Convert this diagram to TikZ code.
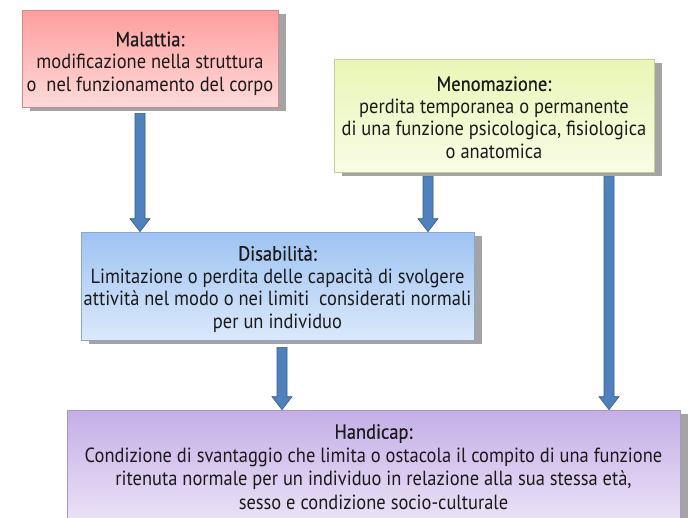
\documentclass[tikz,border=0pt]{standalone}
\usepackage{fontspec}
\setmainfont[FakeStretch=0.9]{PT Sans}
\usetikzlibrary{calc,shadows}
\definecolor{malTop}{HTML}{FF9E9E}
\definecolor{malBot}{HTML}{FFDADA}
\definecolor{malEdge}{HTML}{D08A8A}
\definecolor{menTop}{HTML}{E9F6B6}
\definecolor{menBot}{HTML}{F8FCE6}
\definecolor{menEdge}{HTML}{C4CF90}
\definecolor{disTop}{HTML}{9EC3F2}
\definecolor{disBot}{HTML}{DBE9FB}
\definecolor{disEdge}{HTML}{88A6CE}
\definecolor{hanTop}{HTML}{C4AEE6}
\definecolor{hanBot}{HTML}{EFE8F9}
\definecolor{hanEdge}{HTML}{A896C8}
\definecolor{shadowgray}{HTML}{A4A4A4}
\definecolor{arrowblue}{HTML}{4F81BD}
\definecolor{arrowedge}{HTML}{385D8A}
\definecolor{textdark}{HTML}{1A1A1A}
\newcommand{\boxtitle}[1]{{\addfontfeature{FakeBold=0.5}#1}}
\begin{document}
\begin{tikzpicture}[x=1pt,y=1pt]
\useasboundingbox (0,0) rectangle (688,-517);
\clip (0,0) rectangle (688,-517);
\fill[white] (0,0) rectangle (688,-517);
\tikzset{
  box/.style={rectangle, inner sep=0pt, line width=0.6pt,
    drop shadow={shadow xshift=8pt, shadow yshift=-4pt, fill=shadowgray, opacity=1}},
  boxtext/.style={inner sep=0pt, align=center, text=textdark,
    font=\fontsize{20.5}{22.5}\selectfont},
  blockarrow/.style={fill=arrowblue, draw=arrowedge, line width=0.6pt,
    to path={let \p1=(\tikztostart), \p2=(\tikztotarget) in
      (\x1-5pt,\y1) -- (\x1+5pt,\y1) -- (\x1+5pt,\y2+13pt) -- (\x1+10pt,\y2+13pt)
      -- (\x1,\y2) -- (\x1-10pt,\y2+13pt) -- (\x1-5pt,\y2+13pt) -- cycle}}
}
\node[box, top color=malTop, bottom color=malBot, draw=malEdge,
  minimum width=256pt, minimum height=97pt] (mal) at (150,-58.5) {};
\node[boxtext] (maltext) at ([yshift=-5pt]mal.center)
  {\boxtitle{Malattia:}\\modificazione nella struttura\\o\ \ nel funzionamento del corpo};
\node[box, top color=menTop, bottom color=menBot, draw=menEdge,
  minimum width=320pt, minimum height=113pt] (men) at (494,-115.5) {};
\node[boxtext] (mentext) at ([yshift=-2pt]men.center)
  {\boxtitle{Menomazione:}\\perdita temporanea o permanente\\di una funzione psicologica, fisiologica\\o anatomica};
\node[box, top color=disTop, bottom color=disBot, draw=disEdge,
  minimum width=393pt, minimum height=108pt] (dis) at (277.5,-286) {};
\node[boxtext] (distext) at ([yshift=-3pt]dis.center)
  {\boxtitle{Disabilità:}\\Limitazione o perdita delle capacità di svolgere\\attività nel modo o nei limiti\ \ considerati normali\\per un individuo};
\node[box, top color=hanTop, bottom color=hanBot, draw=hanEdge,
  minimum width=613pt, minimum height=124pt] (han) at (373.5,-472) {};
\node[boxtext, font=\fontsize{20.5}{23.6}\selectfont] (hantext) at ([yshift=5pt]han.center)
  {\boxtitle{Handicap:}\\Condizione di svantaggio che limita o ostacola il compito di una funzione\\ritenuta normale per un individuo in relazione alla sua stessa età,\\sesso e condizione socio-culturale};
\draw[blockarrow] ([xshift=-10pt,yshift=-6pt]mal.south) to ([xshift=-10pt]mal.south |- dis.north);
\draw[blockarrow] ([xshift=-66pt,yshift=-4pt]men.south) to ([xshift=-66pt]men.south |- dis.north);
\draw[blockarrow] ([xshift=115pt,yshift=-4pt]men.south) to ([xshift=115pt]men.south |- han.north);
\draw[blockarrow] ([xshift=4.5pt,yshift=-7pt]dis.south) to ([xshift=4.5pt]dis.south |- han.north);
\end{tikzpicture}
\end{document}
